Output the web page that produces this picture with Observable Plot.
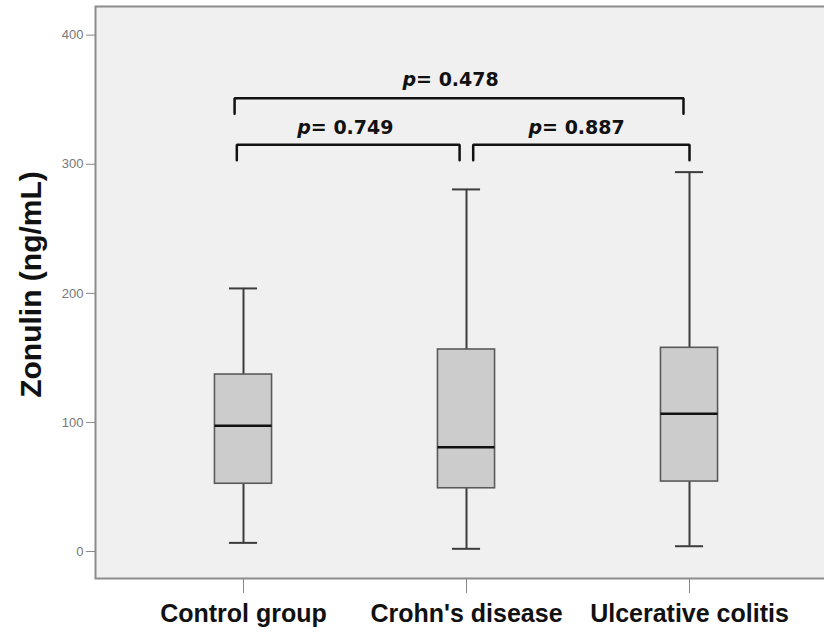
<!DOCTYPE html>
<html>
<head>
<meta charset="utf-8">
<script src="https://cdn.jsdelivr.net/npm/d3@7"></script>
<script src="https://cdn.jsdelivr.net/npm/@observablehq/plot@0.6"></script>
<style>
  html, body { margin: 0; padding: 0; background: #fff; overflow: hidden; }
  #chart { width: 824px; height: 633px; overflow: hidden; }
  #chart svg { max-width: none !important; }
</style>
</head>
<body>
<div id="chart"></div>
<script>
// ---- data ----
const categories = ["Control group", "Crohn's disease", "Ulcerative colitis"];
const whiskerLow  = [6.7, 2.1, 4.1];
const q1          = [52.5, 49.0, 54.2];
const median      = [97.4, 80.8, 106.7];
const q3          = [137.1, 156.5, 157.8];
const whiskerHigh = [203.8, 280.5, 293.9];

const yTicks = [0, 100, 200, 300, 400];

// significance brackets (x in category-index units, y in ng/mL)
const bracketFrom = [-0.04, -0.03, 1.03];
const bracketTo   = [1.973, 0.969, 2.0];
const bracketTop  = [351.2, 315.1, 315.1];
const bracketDrop = [12, 12, 12];
const pSplitX     = [0.774, 0.302, 1.339];
const pLabelY     = [361.0, 323.6, 323.6];
const pValues     = ["0.478", "0.749", "0.887"];

// ---- derived tables ----
const boxes = categories.map((c, i) => ({
  i, c, lo: whiskerLow[i], q1: q1[i], med: median[i], q3: q3[i], hi: whiskerHigh[i]
}));
const brackets = [];
bracketFrom.forEach((f, b) => {
  const t = bracketTop[b], d = bracketTop[b] - bracketDrop[b], to = bracketTo[b];
  brackets.push({b, x: f, y: d}, {b, x: f, y: t}, {b, x: to, y: t}, {b, x: to, y: d});
});
const pLabels = pValues.map((v, k) => ({x: pSplitX[k], y: pLabelY[k], v}));

const boxHalf = 0.128;
const capHalf = 0.063;

const chart = Plot.plot({
  width: 840,
  height: 633,
  marginLeft: 95,
  marginRight: 0,
  marginTop: 6,
  marginBottom: 55,
  style: {fontFamily: "'Liberation Sans', Arial, sans-serif", background: "#fff", maxWidth: "none"},
  x: {type: "linear", domain: [-0.6637, 2.6771]},
  y: {domain: [-20.9, 422.2]},
  marks: [
    Plot.frame({fill: "#f0f0f0", stroke: "#8c8c8c", strokeWidth: 2}),
    // whiskers
    Plot.ruleX(boxes, {x: "i", y1: "lo", y2: "q1", stroke: "#3c3c3c", strokeWidth: 2}),
    Plot.ruleX(boxes, {x: "i", y1: "q3", y2: "hi", stroke: "#3c3c3c", strokeWidth: 2}),
    Plot.ruleY(boxes, {y: "lo", x1: d => d.i - capHalf, x2: d => d.i + capHalf, stroke: "#3c3c3c", strokeWidth: 2}),
    Plot.ruleY(boxes, {y: "hi", x1: d => d.i - capHalf, x2: d => d.i + capHalf, stroke: "#3c3c3c", strokeWidth: 2}),
    // boxes
    Plot.rect(boxes, {x1: d => d.i - boxHalf, x2: d => d.i + boxHalf, y1: "q1", y2: "q3",
      fill: "#cccccc", stroke: "#5a5a5a", strokeWidth: 1.6}),
    Plot.ruleY(boxes, {y: "med", x1: d => d.i - boxHalf, x2: d => d.i + boxHalf, stroke: "#111", strokeWidth: 2.5}),
    // brackets
    Plot.line(brackets, {x: "x", y: "y", z: "b", stroke: "#111", strokeWidth: 2.5, strokeLinejoin: "miter", curve: "linear"}),
    Plot.text(pLabels, {x: "x", y: "y", text: () => "p", textAnchor: "end", lineAnchor: "bottom",
      fontSize: 19, fontWeight: "bold", fontStyle: "italic", fontFamily: "'DejaVu Sans', sans-serif", fill: "#111"}),
    Plot.text(pLabels, {x: "x", y: "y", text: d => "= " + d.v, textAnchor: "start", lineAnchor: "bottom",
      fontSize: 19, fontWeight: "bold", fontFamily: "'DejaVu Sans', sans-serif", fill: "#111"}),
    // axes
    Plot.axisY({ticks: yTicks, tickSize: 9, tickPadding: 3, fontSize: 13, stroke: "#888", fill: "#777", label: null}),
    Plot.axisX({ticks: [0, 1, 2], tickFormat: i => categories[i], tickSize: 15, tickPadding: 11,
      fontSize: 25, fontWeight: "bold", stroke: "#888", fill: "#111", label: null}),
    Plot.text(["Zonulin (ng/mL)"], {frameAnchor: "left", rotate: -90, dx: -64, dy: -8,
      fontSize: 30, fontWeight: "bold", fill: "#111", textAnchor: "middle", lineAnchor: "middle"})
  ]
});
chart.style.maxWidth = "none";
document.getElementById("chart").appendChild(chart);
</script>
</body>
</html>
